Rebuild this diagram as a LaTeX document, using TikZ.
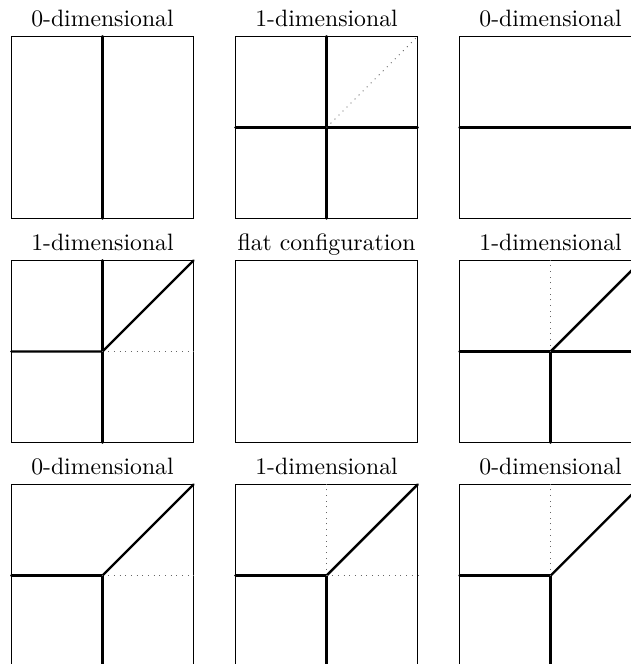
\documentclass[tikz,border=0pt]{standalone}
\usetikzlibrary{positioning}

\tikzset{
  cell/.style  = {draw, line width=0.4pt, minimum size=2.69cm, inner sep=0pt},
  wall/.style  = {line width=1pt, line cap=round},
  ghost/.style = {dotted, black!60},
  title/.style = {anchor=base, inner sep=0pt},
}

\begin{document}
\begin{tikzpicture}

\clip (0,0) rectangle (9.36,-9.85);

% -- the nine cells -----------------------------------------
\node[cell] (q11) at (1.52,-1.89) {};
\node[cell, right=0.62cm of q11] (q12) {};
\node[cell, right=0.62cm of q12] (q13) {};
\node[cell, below=0.62cm of q11] (q21) {};
\node[cell, right=0.62cm of q21] (q22) {};
\node[cell, right=0.62cm of q22] (q23) {};
\node[cell, below=0.62cm of q21] (q31) {};
\node[cell, right=0.62cm of q31] (q32) {};
\node[cell, right=0.62cm of q32] (q33) {};

% -- titles -------------------------------------------------
\foreach \q/\txt in {q11/0-dimensional, q12/1-dimensional, q13/0-dimensional,
                     q21/1-dimensional, q22/flat configuration, q23/1-dimensional,
                     q31/0-dimensional, q32/1-dimensional, q33/0-dimensional}
  \node[title, above=0.15cm of \q.north, anchor=base] (t\q) {\txt};

% -- first row ----------------------------------------------
\draw[wall] (q11.north) -- (q11.south);

\draw[wall] (q12.north) -- (q12.south);
\draw[wall] (q12.west) -- (q12.east);
\draw[ghost] (q12.center) -- (q12.north east);

\draw[wall] (q13.west) -- (q13.east);

% -- second row ---------------------------------------------
\draw[wall] (q21.north) -- (q21.south);
\draw[wall] (q21.west) -- (q21.center) -- (q21.north east);
\draw[ghost] (q21.center) -- (q21.east);

% q22 stays empty (flat)

\draw[wall] (q23.west) -- (q23.east);
\draw[wall] (q23.center) -- (q23.south);
\draw[wall] (q23.center) -- (q23.north east);
\draw[ghost] (q23.center) -- (q23.north);

% -- third row ----------------------------------------------
\draw[wall] (q31.west) -- (q31.center) -- (q31.south);
\draw[wall] (q31.center) -- (q31.north east);
\draw[ghost] (q31.center) -- (q31.east);

\draw[wall] (q32.west) -- (q32.center) -- (q32.south);
\draw[wall] (q32.center) -- (q32.north east);
\draw[ghost] (q32.center) -- (q32.east);
\draw[ghost] (q32.center) -- (q32.north);

\draw[wall] (q33.west) -- (q33.center) -- (q33.south);
\draw[wall] (q33.center) -- (q33.north east);
\draw[ghost] (q33.center) -- (q33.north);

\end{tikzpicture}
\end{document}
